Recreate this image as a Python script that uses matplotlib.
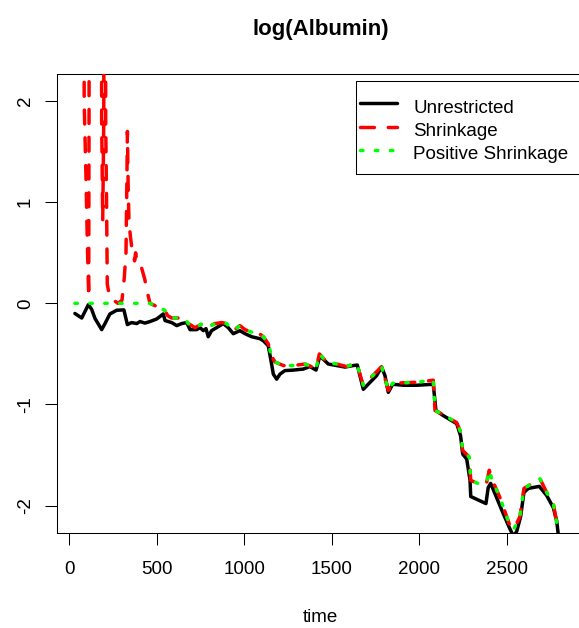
import matplotlib
matplotlib.use("Agg")
import matplotlib.pyplot as plt
from matplotlib.lines import Line2D
from matplotlib.patches import Rectangle

plt.rcParams['font.family'] = ['Liberation Sans', 'DejaVu Sans']
plt.rcParams['axes.unicode_minus'] = False

# ---- data -------------------------------------------------------------
time_unres = [31, 70, 108, 127, 146, 184, 203, 231, 270, 311, 331, 355, 384, 403,
              431, 460, 498, 536, 546, 584, 613, 641, 670, 689, 727, 746, 765, 780,
              793, 812, 841, 879, 907, 936, 974, 1003, 1041, 1089, 1108, 1136, 1155,
              1165, 1184, 1203, 1231, 1279, 1336, 1374, 1409, 1431, 1479, 1527, 1574,
              1622, 1645, 1679, 1707, 1755, 1784, 1803, 1822, 1847, 1908, 1984, 2079,
              2094, 2136, 2213, 2235, 2247, 2270, 2289, 2293, 2380, 2393, 2407, 2431,
              2479, 2517, 2536, 2555, 2578, 2597, 2622, 2685, 2727, 2765, 2784, 2793]
logalb_unres = [-0.10, -0.145, -0.013, -0.06, -0.15, -0.26, -0.20, -0.105, -0.068, -0.065,
                -0.21, -0.19, -0.20, -0.18, -0.195, -0.18, -0.155, -0.105, -0.17, -0.19,
                -0.22, -0.20, -0.19, -0.26, -0.26, -0.24, -0.27, -0.25, -0.33, -0.27,
                -0.24, -0.20, -0.24, -0.30, -0.27, -0.30, -0.33, -0.35, -0.37, -0.42,
                -0.60, -0.70, -0.75, -0.70, -0.665, -0.66, -0.65, -0.625, -0.66, -0.52,
                -0.60, -0.615, -0.63, -0.615, -0.61, -0.85, -0.80, -0.715, -0.63, -0.715,
                -0.88, -0.80, -0.81, -0.81, -0.80, -1.06, -1.11, -1.19, -1.31, -1.49,
                -1.54, -1.75, -1.91, -1.98, -1.82, -1.78, -1.88, -2.08, -2.23, -2.30,
                -2.26, -2.11, -1.87, -1.83, -1.81, -1.90, -2.02, -2.15, -2.28]

# early part of the shrinkage estimate (unstable at small times)
time_shrink_early = [31, 80, 84, 88, 95, 102, 110, 111, 112, 113, 180, 184, 190, 196,
                     200, 203, 207, 212, 216, 230, 277, 300, 313, 323, 328, 331, 335,
                     340, 349, 357, 365, 372, 378, 386, 409, 430, 449, 460]
logalb_shrink_early = [12.0, 12.0, 2.0, 1.7, 1.2, 0.6, 0.06, 1.2, 2.0, 12.0, 12.0, 1.8,
                       0.82, 1.8, 12.0, 12.0, 1.8, 1.0, 0.19, 0.06, 0.0, 0.03, 0.25,
                       0.50, 1.2, 1.70, 1.2, 0.80, 0.65, 0.54, 0.52, 0.42, 0.50, 0.40,
                       0.37, 0.24, 0.08, 0.0]

# early part of the positive shrinkage estimate
time_pos_early = [31, 108, 203, 311, 403, 460]
logalb_pos_early = [0.0, 0.0, 0.0, 0.0, 0.0, 0.0]

# later part, shared by both shrinkage estimates
time_late = [498, 546, 560, 584, 640, 660, 679, 717, 761, 784, 831, 870, 898, 936, 974,
             1003, 1041, 1085, 1108, 1136, 1155, 1174, 1222, 1279, 1346, 1409, 1428,
             1470, 1527, 1584, 1641, 1679, 1784, 1822, 1847, 1984, 2079, 2089, 2136,
             2213, 2235, 2247, 2285, 2293, 2346, 2384, 2399, 2413, 2460, 2513, 2540,
             2574, 2597, 2689, 2727, 2765, 2793]
logalb_late = [-0.03, -0.07, -0.12, -0.145, -0.145, -0.15, -0.20, -0.24, -0.20, -0.24,
               -0.20, -0.19, -0.20, -0.27, -0.22, -0.26, -0.285, -0.30, -0.33, -0.40,
               -0.52, -0.58, -0.615, -0.615, -0.60, -0.645, -0.50, -0.58, -0.60, -0.625,
               -0.59, -0.81, -0.625, -0.86, -0.79, -0.78, -0.76, -1.06, -1.10, -1.18,
               -1.27, -1.455, -1.52, -1.75, -1.79, -1.77, -1.65, -1.735, -1.92, -2.18,
               -2.23, -2.11, -1.83, -1.735, -1.87, -1.98, -2.26]

time_shrink = time_shrink_early + time_late
logalb_shrink = logalb_shrink_early + logalb_late
time_pos = time_pos_early + time_late
logalb_pos = logalb_pos_early + logalb_late

x_ticks = [0, 500, 1000, 1500, 2000, 2500]
y_ticks = [-2, -1, 0, 1, 2]
legend_labels = ["Unrestricted", "Shrinkage", "Positive Shrinkage"]

# ---- figure -----------------------------------------------------------
W, H = 579, 628
fig = plt.figure(figsize=(W / 100, H / 100), dpi=100)
ax = fig.add_axes([56.7 / W, 1 - 532.7 / H, 528.3 / W, 458.7 / H])

LW = 2.5
styles = [
    dict(color='black', lw=LW, linestyle='-', solid_capstyle='round',
         solid_joinstyle='round'),
    dict(color='#ff0000', lw=LW, linestyle=(0, (4, 4)), dash_capstyle='round',
         dash_joinstyle='round'),
    dict(color='#00ff00', lw=LW, linestyle=(0, (0.7, 3.6)), dash_capstyle='round',
         dash_joinstyle='round'),
]

ax.plot(time_unres, logalb_unres, zorder=2, **styles[0])
ax.plot(time_shrink, logalb_shrink, zorder=3, **styles[1])
ax.plot(time_pos, logalb_pos, zorder=4, **styles[2])

ax.set_xlim(-73, 2946)
ax.set_ylim(-2.268, 2.268)
ax.set_xticks(x_ticks)
ax.set_yticks(y_ticks)
ax.tick_params(direction='out', length=8.4, width=0.75, labelsize=13.5,
               colors='black')
ax.tick_params(axis='x', pad=12)
ax.tick_params(axis='y', pad=8.0, labelrotation=90)
for lab in ax.get_yticklabels():
    lab.set_va('center')
for sp in ax.spines.values():
    sp.set_linewidth(0.75)
    sp.set_color('black')

# title and axis label
fig.text(320.8 / W, 1 - 35 / H, 'log(Albumin)', fontsize=16, fontweight='bold',
         ha='center', va='baseline')
fig.text(320.8 / W, 1 - 621.7 / H, 'time', fontsize=13.5, ha='center',
         va='baseline')

# legend box drawn in figure pixels
fig.add_artist(Rectangle((356 / W, 1 - 173.7 / H), (640 - 356) / W, 93 / H,
                         transform=fig.transFigure, fill=False,
                         edgecolor='black', lw=0.75))
handle_y = [103.3, 126.7, 150.0]
text_y = [112.7, 136.0, 159.3]
for lbl, st, hy, ty in zip(legend_labels, styles, handle_y, text_y):
    fig.add_artist(Line2D([360 / W, 396.7 / W], [1 - hy / H, 1 - hy / H],
                          transform=fig.transFigure, **st))
    fig.text(413.3 / W, 1 - ty / H, lbl, fontsize=13.5, ha='left',
             va='baseline')

fig.savefig('out.png', dpi=100)
